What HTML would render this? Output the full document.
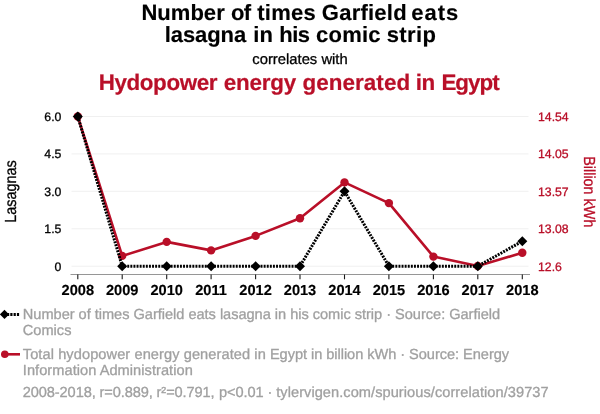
<!DOCTYPE html>
<html><head><meta charset="utf-8">
<style>
html,body{margin:0;padding:0;background:#fff;}
svg{display:block;will-change:transform;text-rendering:geometricPrecision;font-family:"Liberation Sans",Arial,Helvetica,sans-serif;}
text{stroke-width:.3px;stroke-linejoin:round;}
g[style] text{stroke-width:inherit;}
</style></head>
<body>
<svg width="600" height="414" viewBox="0 0 600 414">
<rect width="600" height="414" fill="#fff"/>
<!-- titles -->
<g font-weight="bold" fill="#000" stroke="#000" font-size="22" style="stroke-width:.15px">
<text x="141.4" y="19.5" textLength="83.3">Number</text>
<text x="231.05" y="19.5" textLength="20">of</text>
<text x="257.3" y="19.5" textLength="58.4">times</text>
<text x="321.8" y="19.5" textLength="84.85">Garfield</text>
<text x="411.25" y="19.5" textLength="47">eats</text>
<text x="164.65" y="41.5" textLength="81.6">lasagna</text>
<text x="253.15" y="41.5" textLength="19.87">in</text>
<text x="279.15" y="41.5" textLength="30.9">his</text>
<text x="315.98" y="41.5" textLength="64.57">comic</text>
<text x="386.76" y="41.5" textLength="49.1">strip</text>
</g>
<text x="300" y="63.8" font-size="14.8" text-anchor="middle" fill="#000" stroke="#000">correlates with</text>
<g font-size="22.4" font-weight="bold" fill="#b90f28" stroke="#b90f28" style="stroke-width:.2px">
<text x="98.8" y="89.8" textLength="118.6">Hydopower</text>
<text x="223.75" y="89.8" textLength="72.4">energy</text>
<text x="302.5" y="89.8" textLength="107.6">generated</text>
<text x="415.65" y="89.8" textLength="19.55">in</text>
<text x="441.4" y="89.8" textLength="58.25">Egypt</text>
</g>
<!-- grid -->
<g stroke="#f0f0f0" stroke-width="1">
<line x1="71.5" x2="528.5" y1="116.5" y2="116.5"/>
<line x1="71.5" x2="528.5" y1="153.9" y2="153.9"/>
<line x1="71.5" x2="528.5" y1="191.3" y2="191.3"/>
<line x1="71.5" x2="528.5" y1="228.8" y2="228.8"/>
<line x1="71.5" x2="528.5" y1="266.2" y2="266.2"/>
</g>
<!-- axis -->
<line x1="70.5" x2="530" y1="274.5" y2="274.5" stroke="#969696" stroke-width="1"/>
<g stroke="#1a1a1a" stroke-width="1.1">
<line x1="77.8" x2="77.8" y1="274.5" y2="279.3"/>
<line x1="122.2" x2="122.2" y1="274.5" y2="279.3"/>
<line x1="166.7" x2="166.7" y1="274.5" y2="279.3"/>
<line x1="211.1" x2="211.1" y1="274.5" y2="279.3"/>
<line x1="255.6" x2="255.6" y1="274.5" y2="279.3"/>
<line x1="300.0" x2="300.0" y1="274.5" y2="279.3"/>
<line x1="344.5" x2="344.5" y1="274.5" y2="279.3"/>
<line x1="388.9" x2="388.9" y1="274.5" y2="279.3"/>
<line x1="433.4" x2="433.4" y1="274.5" y2="279.3"/>
<line x1="477.8" x2="477.8" y1="274.5" y2="279.3"/>
<line x1="522.3" x2="522.3" y1="274.5" y2="279.3"/>
</g>
<!-- x labels -->
<g font-size="14.6" font-weight="bold" text-anchor="middle" fill="#000" stroke="#000" style="stroke-width:.15px">
<text x="77.8" y="294.7">2008</text>
<text x="122.2" y="294.7">2009</text>
<text x="166.7" y="294.7">2010</text>
<text x="211.1" y="294.7">2011</text>
<text x="255.6" y="294.7">2012</text>
<text x="300.0" y="294.7">2013</text>
<text x="344.5" y="294.7">2014</text>
<text x="388.9" y="294.7">2015</text>
<text x="433.4" y="294.7">2016</text>
<text x="477.8" y="294.7">2017</text>
<text x="522.3" y="294.7">2018</text>
</g>
<!-- left labels -->
<g font-size="12.25" text-anchor="end" fill="#000" stroke="#000">
<text x="61.4" y="121.0">6.0</text>
<text x="61.4" y="158.4">4.5</text>
<text x="61.4" y="195.8">3.0</text>
<text x="61.4" y="233.2">1.5</text>
<text x="61.4" y="270.6">0</text>
</g>
<text transform="translate(15.7,191.5) rotate(-90) scale(0.9,1)" font-size="16" text-anchor="middle" fill="#000" stroke="#000">Lasagnas</text>
<!-- right labels -->
<g font-size="12.25" text-anchor="start" fill="#b90f28" stroke="#b90f28">
<text x="538" y="121.0">14.54</text>
<text x="538" y="158.4">14.05</text>
<text x="538" y="195.8">13.57</text>
<text x="538" y="233.2">13.08</text>
<text x="538" y="270.6">12.6</text>
</g>
<text transform="translate(583.5,191.8) rotate(90) scale(0.9,1)" font-size="16" text-anchor="middle" fill="#b90f28" stroke="#b90f28">Billion kWh</text>
<!-- red series -->
<g stroke="#b90f28" fill="#b90f28">
<polyline fill="none" stroke-width="2.6" stroke-linejoin="round" points="77.8,116.5 122.2,255.9 166.7,241.9 211.1,250.4 255.6,235.9 300.0,218.3 344.5,182.4 388.9,203.1 433.4,256.6 477.8,266.0 522.3,252.8"/>
<g stroke="none"><circle cx="77.8" cy="116.5" r="4.2"/><circle cx="122.2" cy="255.9" r="4.2"/><circle cx="166.7" cy="241.9" r="4.2"/><circle cx="211.1" cy="250.4" r="4.2"/><circle cx="255.6" cy="235.9" r="4.2"/><circle cx="300.0" cy="218.3" r="4.2"/><circle cx="344.5" cy="182.4" r="4.2"/><circle cx="388.9" cy="203.1" r="4.2"/><circle cx="433.4" cy="256.6" r="4.2"/><circle cx="477.8" cy="266.0" r="4.2"/><circle cx="522.3" cy="252.8" r="4.2"/></g></g>
<!-- black series -->
<polyline fill="none" stroke="#000" stroke-width="3" stroke-dasharray="1.95 1.15" points="77.8,116.5 122.2,266.2 166.7,266.2 211.1,266.2 255.6,266.2 300.0,266.2 344.5,191.3 388.9,266.2 433.4,266.2 477.8,266.2 522.3,241.2"/>
<g fill="#000">
<path d="M77.8 111.5l5 5-5 5-5-5z"/>
<path d="M122.2 261.2l5 5-5 5-5-5z"/>
<path d="M166.7 261.2l5 5-5 5-5-5z"/>
<path d="M211.1 261.2l5 5-5 5-5-5z"/>
<path d="M255.6 261.2l5 5-5 5-5-5z"/>
<path d="M300.0 261.2l5 5-5 5-5-5z"/>
<path d="M344.5 186.3l5 5-5 5-5-5z"/>
<path d="M388.9 261.2l5 5-5 5-5-5z"/>
<path d="M433.4 261.2l5 5-5 5-5-5z"/>
<path d="M477.8 261.2l5 5-5 5-5-5z"/>
<path d="M522.3 236.2l5 5-5 5-5-5z"/>
</g>
<!-- legend -->
<g>
<line x1="7" x2="20" y1="314.4" y2="314.4" stroke="#000" stroke-width="3" stroke-dasharray="2.2 1.1"/>
<path d="M4.5 309.8l4.6 4.6-4.6 4.6-4.6-4.6z" fill="#000"/>
<line x1="4" x2="20" y1="354.3" y2="354.3" stroke="#b90f28" stroke-width="2.6"/>
<circle cx="4.8" cy="354.3" r="3.8" fill="#b90f28"/>
</g>
<g font-size="14.6" fill="#a0a0a0" stroke="#a0a0a0">
<text x="22.8" y="318.9" textLength="477.3">Number of times Garfield eats lasagna in his comic strip · Source: Garfield</text>
<text x="22.8" y="334.6">Comics</text>
<text x="22.8" y="358.9" textLength="243">Total hydopower energy generated in</text>
<text x="269.9" y="358.9" textLength="239.2">Egypt in billion kWh · Source: Energy</text>
<text x="22.8" y="374.6" textLength="170">Information Administration</text>
<text x="22.8" y="396.9" textLength="191.8">2008-2018, r=0.889, r²=0.791,</text>
<text x="219" y="396.9" textLength="53.4">p&lt;0.01 ·</text>
<text x="276.2" y="396.9" textLength="272.4">tylervigen.com/spurious/correlation/39737</text>
</g>
</svg>
</body></html>
